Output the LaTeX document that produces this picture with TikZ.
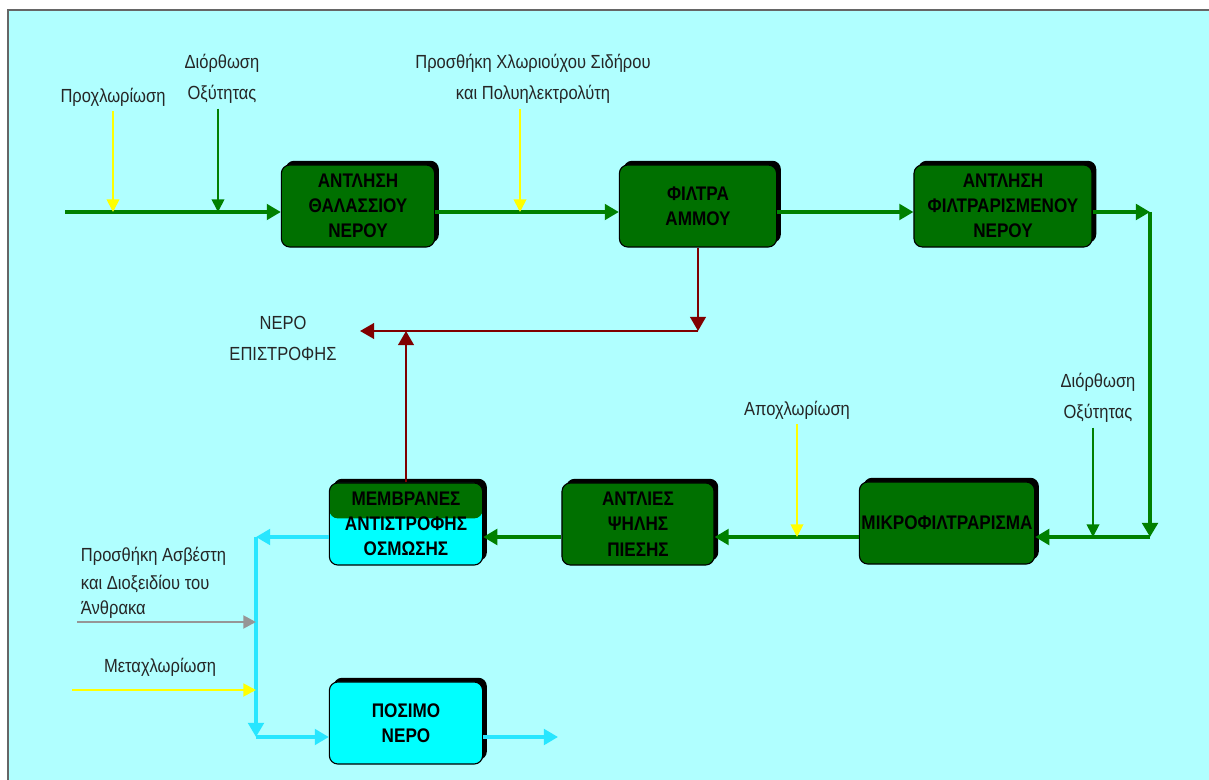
\documentclass[tikz,border=0pt]{standalone}
\usepackage{fontspec}
\setmainfont{Liberation Sans}[FakeStretch=0.87]
\usetikzlibrary{arrows.meta,shadows}
\definecolor{bgcyan}{RGB}{176,255,255}
\definecolor{boxgreen}{RGB}{0,112,0}
\definecolor{flowgreen}{RGB}{0,128,0}
\definecolor{wcyan}{RGB}{40,230,255}
\definecolor{boxcyan}{RGB}{0,255,255}
\definecolor{retred}{RGB}{128,0,0}
\definecolor{dosyellow}{RGB}{255,255,0}
\definecolor{limegray}{RGB}{150,150,150}
\tikzset{>={Triangle[length=10pt,width=11pt]}}
\tikzset{
  stage/.style={draw=black, line width=0.8pt, rounded corners=6pt, fill=boxgreen,
    minimum width=#1, minimum height=2.05cm, align=center, inner sep=1pt,
    font=\fontsize{14}{18}\selectfont\bfseries,
    general shadow={fill=black, shadow xshift=3pt, shadow yshift=3pt}},
  stage/.default=3.83cm,
  flow/.style={draw=flowgreen, line width=3.3pt, ->},
  water/.style={draw=wcyan, line width=3.3pt, ->},
  ret/.style={draw=retred, line width=1.8pt, ->},
  dose/.style={line width=1.3pt, -{Triangle[length=9pt,width=9pt]}},
  note/.style={font=\fontsize{13.5}{22}\selectfont, text=black!85, align=center}
}

\begin{document}
\begin{tikzpicture}[x=0.025cm, y=-0.025cm]
    \useasboundingbox (0,0) rectangle (1209,780);
    \fill[bgcyan] (8,10) rectangle (1230,800);
    \draw[black!60, line width=1.5pt] (1230,10) -- (8,10) -- (8,800);
    \node[stage] (b1) at (358,206) {ΑΝΤΛΗΣΗ\\ΘΑΛΑΣΣΙΟΥ\\ΝΕΡΟΥ};
    \node[stage=3.93cm] (b2) at (698,206) {ΦΙΛΤΡΑ\\ΑΜΜΟΥ};
    \node[stage=4.45cm] (b3) at (1003,206) {ΑΝΤΛΗΣΗ\\ΦΙΛΤΡΑΡΙΣΜΕΝΟΥ\\ΝΕΡΟΥ};
    \node[stage=4.38cm] (b4) at (947,523) {ΜΙΚΡΟΦΙΛΤΡΑΡΙΣΜΑ};
    \node[stage=3.8cm] (b5) at (638,524) {ΑΝΤΛΙΕΣ\\ΨΗΛΗΣ\\ΠΙΕΣΗΣ};
    \node[stage, fill=boxcyan, path picture={\fill[boxgreen] (path picture bounding box.north west) rectangle ([yshift=4pt]path picture bounding box.east);}] (b6) at (406,524) {ΜΕΜΒΡΑΝΕΣ\\ΑΝΤΙΣΤΡΟΦΗΣ\\ΟΣΜΩΣΗΣ};
    \node[stage, fill=boxcyan] (b7) at (406,723) {ΠΟΣΙΜΟ\\ΝΕΡΟ};
    \node[note] (pro) at (113,97) {Προχλωρίωση};
    \node[note] (dio1) at (222,79) {Διόρθωση\\Οξύτητας};
    \node[note] (chl) at (533,79) {Προσθήκη Χλωριούχου Σιδήρου\\και Πολυηλεκτρολύτη};
    \node[note] (apo) at (797,410) {Αποχλωρίωση};
    \node[note] (dio2) at (1098,398) {Διόρθωση\\Οξύτητας};
    \node[note] (nep) at (283,338) {ΝΕΡΟ\\ΕΠΙΣΤΡΟΦΗΣ};
    \node[note, align=left, anchor=west] (asv) at (76,583) {Προσθήκη Ασβέστη\\[-2pt]και Διοξειδίου του\\[-4pt]Άνθρακα};
    \node[note] (met) at (160,667) {Μεταχλωρίωση};
    \coordinate (in) at (65,212);
    \coordinate (f1) at (113,212);
    \coordinate (f2) at (218,212);
    \coordinate (f3) at (520,212);
    \coordinate (ne) at (1150,212);
    \coordinate (se) at (1150,537);
    \coordinate (f4) at (1093,537);
    \coordinate (f5) at (797,537);
    \coordinate (cl) at (256,537);
    \coordinate (cb) at (256,737);
    \coordinate (out) at (558,737);
    \coordinate (ret) at (698,331);
    \coordinate (rl) at (360,331);
    \coordinate (g1) at (77,622);
    \coordinate (y1) at (72,690);
    \draw[flow] (in) -- (b1.west |- in);
    \draw[flow] (b1.east |- in) -- (b2.west |- in);
    \draw[flow] (b2.east |- in) -- (b3.west |- in);
    \draw[flow] (b3.east |- ne) -- (ne);
    \draw[flow] (ne) -- (se);
    \draw[flow] (se) -- (b4.east |- se);
    \draw[flow] (b4.west |- se) -- (b5.east |- se);
    \draw[flow] (b5.west |- se) -- (b6.east |- se);
    \draw[water] (b6.west |- cl) -- (cl);
    \draw[water] (cl) -- (cb);
    \draw[water] (cb) -- (b7.west |- cb);
    \draw[water] (b7.east |- cb) -- (out);
    \draw[dose, dosyellow] (pro.south -| f1) -- (f1);
    \draw[dose, flowgreen] (dio1.south -| f2) -- (f2);
    \draw[dose, dosyellow] (chl.south -| f3) -- (f3);
    \draw[dose, flowgreen] (dio2.south -| f4) -- (f4);
    \draw[dose, dosyellow] (apo.south -| f5) -- (f5);
    \draw[dose, limegray, line width=2pt] (g1) -- (cl |- g1);
    \draw[dose, dosyellow, line width=2pt] (y1) -- (cl |- y1);
    \draw[ret] (b2.south -| ret) -- (ret);
    \draw[ret] (ret) -- (rl);
    \draw[ret] (b6.north) -- (b6.north |- ret);
\end{tikzpicture}
\end{document}
